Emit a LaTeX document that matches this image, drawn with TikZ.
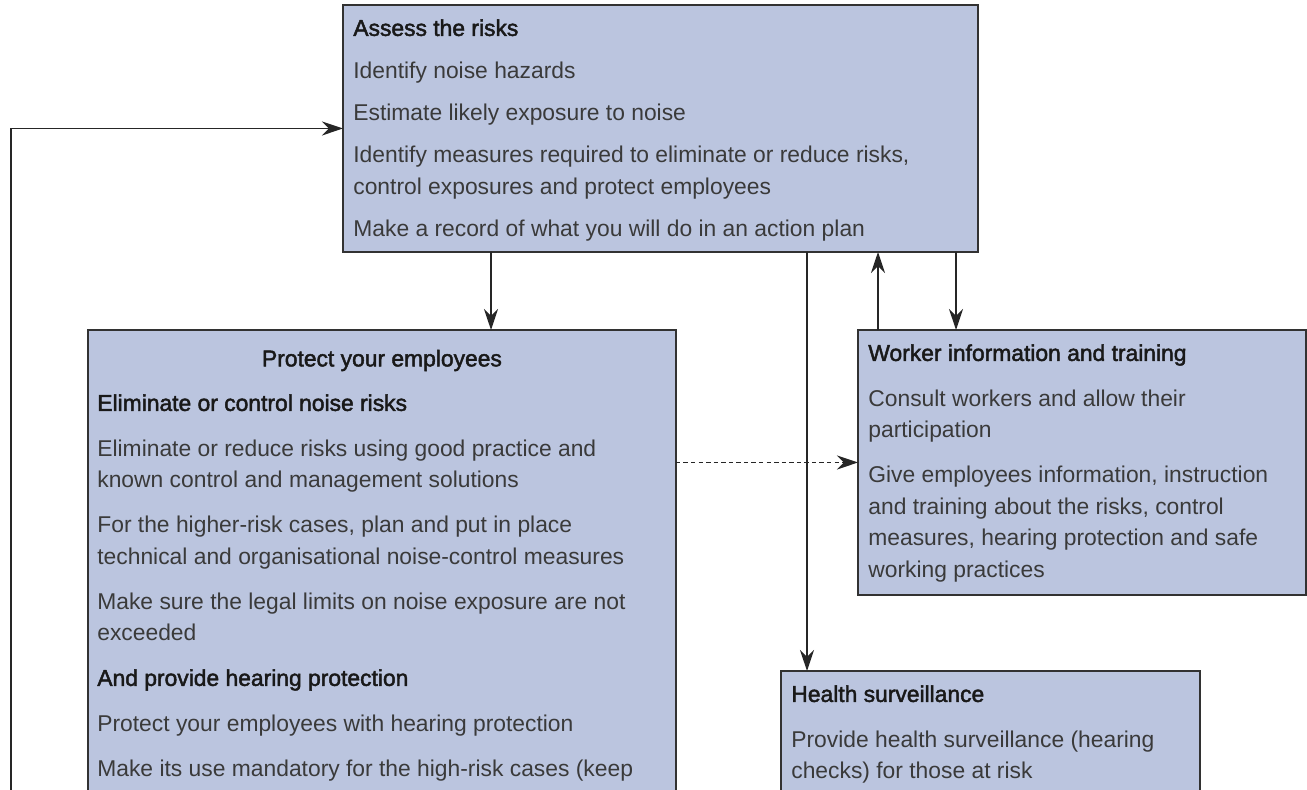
\documentclass[tikz,border=0pt]{standalone}
\usepackage{fontspec}
\setmainfont{Liberation Sans}
\newfontfamily\headfont[FakeBold=2]{Liberation Sans}
\usetikzlibrary{arrows.meta, positioning}

\definecolor{boxfill}{RGB}{187,197,223}
\definecolor{boxline}{RGB}{50,50,50}
\definecolor{bodytext}{RGB}{58,58,58}
\definecolor{headtext}{RGB}{25,25,25}
\newcommand\npar{\\[7.8pt]}
\newcommand\apar{\\[6.2pt]}
\newcommand\hd[1]{{\headfont\color{headtext}#1}}

\begin{document}
\begin{tikzpicture}[x=0.02cm, y=-0.02cm,
    panel/.style={draw=boxline, fill=boxfill, line width=0.85pt, inner sep=0pt, outer sep=0pt, anchor=north west},
    body/.style={anchor=north west, align=left, inner xsep=0.2cm, inner ysep=0.28cm,
      font=\fontsize{13}{17.9}\selectfont, text=bodytext, execute at begin node=\strut},
    flow/.style={draw=black!85, line width=0.75pt, -{Stealth[length=12pt,width=8pt]}}]
  \useasboundingbox (0,0) rectangle (1307,789);

  \node[panel, minimum width=12.7cm, minimum height=4.94cm] (assess) at (343,5) {};
  \node[panel, minimum width=11.76cm, minimum height=10cm] (protect) at (88,330) {};
  \node[panel, minimum width=8.96cm, minimum height=5.3cm] (worker) at (858,330) {};
  \node[panel, minimum width=8.38cm, minimum height=3.6cm] (health) at (781,671) {};

  \node[body] (assesstext) at (assess.north west) {%
    \hd{Assess the risks}\apar
    Identify noise hazards\apar
    Estimate likely exposure to noise\apar
    Identify measures required to eliminate or reduce risks,\\
    control exposures and protect employees\apar
    Make a record of what you will do in an action plan};
  \node[body, anchor=north] (protecthead) at (protect.north) {\hd{Protect your employees}};
  \node[body, inner xsep=0.18cm, yshift=-1.0cm] (protecttext) at (protect.north west) {%
    \hd{Eliminate or control noise risks}\npar
    Eliminate or reduce risks using good practice and\\
    known control and management solutions\npar
    For the higher-risk cases, plan and put in place\\
    technical and organisational noise-control measures\npar
    Make sure the legal limits on noise exposure are not\\
    exceeded\npar
    \hd{And provide hearing protection}\npar
    Protect your employees with hearing protection\npar
    Make its use mandatory for the high-risk cases (keep};
  \node[body] (workertext) at (worker.north west) {%
    \hd{Worker information and training}\npar
    Consult workers and allow their\\
    participation\npar
    Give employees information, instruction\\
    and training about the risks, control\\
    measures, hearing protection and safe\\
    working practices};
  \node[body] (healthtext) at (health.north west) {%
    \hd{Health surveillance}\npar
    Provide health surveillance (hearing\\
    checks) for those at risk};

  \coordinate (loopstart) at (11,800);
  \coordinate (downx) at (491,0);
  \coordinate (healthx) at (807,0);
  \coordinate (upx) at (878,0);
  \coordinate (backx) at (956,0);

  \draw[flow] (loopstart) |- (assess.west);
  \draw[flow] (assess.south -| downx) -- (protect.north -| downx);
  \draw[flow] (assess.south -| healthx) -- (health.north -| healthx);
  \draw[flow] (worker.north -| upx) -- (assess.south -| upx);
  \draw[flow] (assess.south -| backx) -- (worker.north -| backx);
  \draw[flow, dash pattern=on 2.5pt off 1.8pt] (protect.east |- worker.west) -- (worker.west);
\end{tikzpicture}
\end{document}
